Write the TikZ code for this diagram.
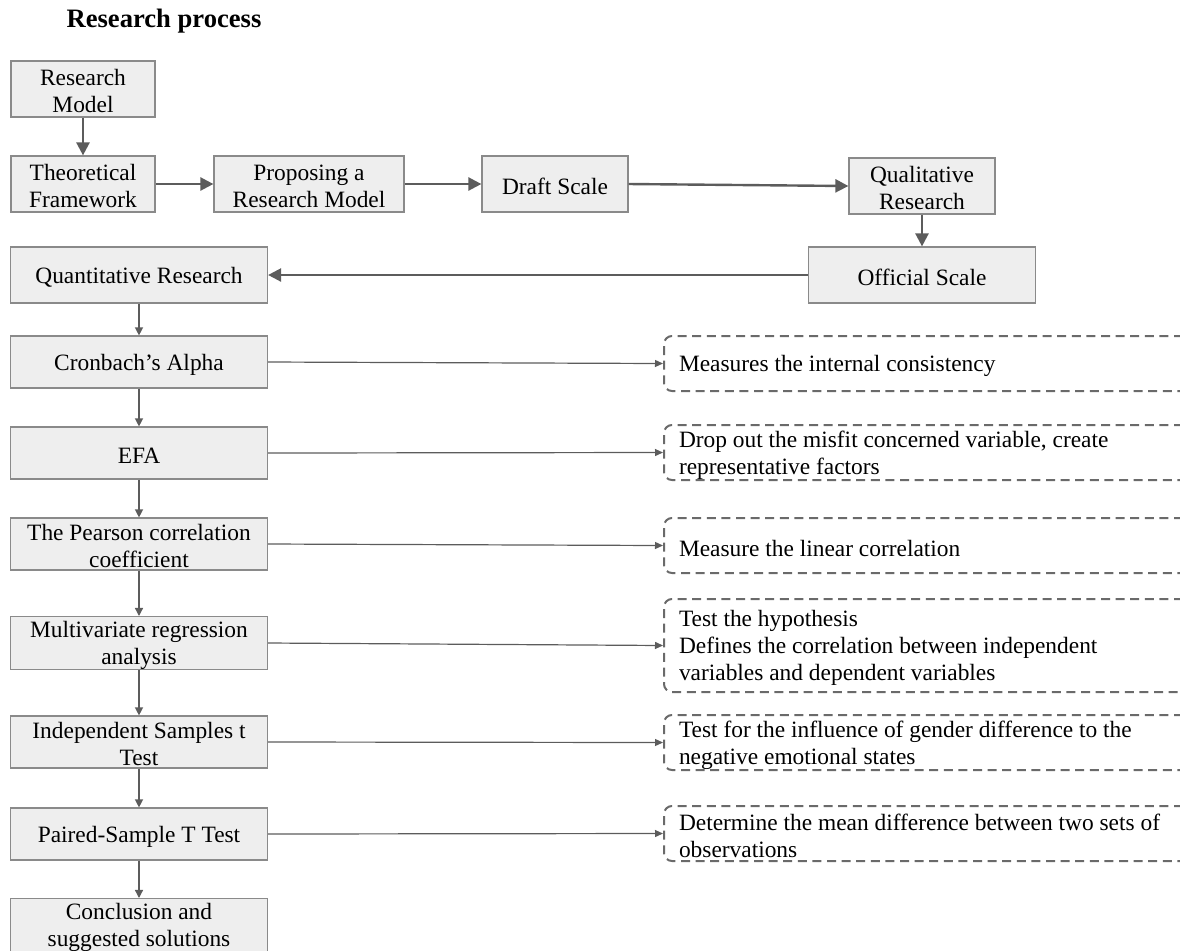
\documentclass[tikz,border=0pt]{standalone}
\usepackage{fontspec}
\setmainfont{Liberation Serif}
\usetikzlibrary{arrows.meta}
\definecolor{boxfill}{HTML}{EEEEEE}
\definecolor{boxline}{HTML}{8A8A8A}
\definecolor{arrowgray}{HTML}{5C5C5C}
\definecolor{dashgray}{HTML}{6A6A6A}
\tikzset{
    lift/.style = {execute at begin node={\rule{0pt}{#1}}},
    procnode/.style = {rectangle, draw=boxline, line width=0.6pt, fill=boxfill, align=center, inner sep=0pt, font=\fontsize{11.7}{13.5}\selectfont, text=black, lift=10.8pt},
    notenode/.style = {rectangle, rounded corners=4pt, draw=dashgray, line width=1pt, dash pattern=on 4.5pt off 2.8pt, align=flush left, anchor=west, inner xsep=7.5pt, inner ysep=0pt, text width=248.5pt, minimum height=27.5pt, font=\fontsize{11.7}{13.5}\selectfont, text=black, lift=10.8pt},
    twoline/.style = {lift=23.9pt},
    edgek/.style = {-{Triangle[length=6.5pt,width=6.5pt]}, line width=1.2pt, arrowgray},
    edgen/.style = {-{Triangle[length=4pt,width=3.5pt]}, line width=0.6pt, arrowgray}, % to notes
    edgev/.style = {-{Triangle[length=4pt,width=4pt]}, line width=0.65pt, arrowgray}, % down the list
}

\begin{document}
\begin{tikzpicture}[x=0.5pt, y=-0.5pt]
  \useasboundingbox (0,0) rectangle (1180,950);

  \node (title) at (164,21) {\fontsize{13.3}{15}\selectfont\bfseries Research process};

  % upper chain
  \node[procnode, twoline, minimum width=72pt, minimum height=28pt] (resmodel) at (83,89) {Research\\Model};
  \node[procnode, twoline, minimum width=72pt, minimum height=28pt] (theory) at (83,184) {Theoretical\\Framework};
  \node[procnode, twoline, minimum width=95pt, minimum height=28pt] (propose) at (309,184) {Proposing a\\Research Model};
  \node[procnode, minimum width=73pt, minimum height=28pt] (draft) at (555,184) {Draft Scale};
  \node[procnode, twoline, minimum width=73pt, minimum height=28pt] (qual) at (922,186) {Qualitative\\Research};
  \node[procnode, minimum width=113.5pt, minimum height=28pt] (official) at (922,275) {Official Scale};
  \node[procnode, minimum width=128.5pt, minimum height=28pt] (quant) at (139,275) {Quantitative Research};

  % analysis steps
  \node[procnode, minimum width=128.5pt, minimum height=26pt] (cronbach) at (139,362) {Cronbach’s Alpha};
  \node[procnode, minimum width=128.5pt, minimum height=26pt] (efa) at (139,453) {EFA};
  \node[procnode, twoline, minimum width=128.5pt, minimum height=26pt] (pearson) at (139,544) {The Pearson correlation\\coefficient};
  \node[procnode, twoline, minimum width=128.5pt, minimum height=26pt] (regress) at (139,643) {Multivariate regression\\analysis};
  \node[procnode, twoline, minimum width=128.5pt, minimum height=26pt] (ttest) at (139,742) {Independent Samples t\\Test};
  \node[procnode, minimum width=128.5pt, minimum height=26pt] (paired) at (139,834) {Paired-Sample T Test};
  \node[procnode, twoline, minimum width=128.5pt, minimum height=26pt] (conclude) at (139,925) {Conclusion and\\suggested solutions};

  % notes
  \node[notenode] (ncron) at (663,363.5) {Measures the internal consistency};
  \node[notenode] (nefa) at (663,452.5) {Drop out the misfit concerned variable, create\\representative factors};
  \node[notenode] (npear) at (663,545.5) {Measure the linear correlation};
  \node[notenode, minimum height=46.5pt] (nreg) at (663,645.5) {Test the hypothesis\\Defines the correlation between independent\\variables and dependent variables};
  \node[notenode] (nttest) at (663,742.5) {Test for the influence of gender difference to the\\negative emotional states};
  \node[notenode] (npair) at (663,833.5) {Determine the mean difference between two sets of\\observations};

  \draw[edgek] (resmodel) -- (theory);
  \draw[edgek] (theory) -- (propose);
  \draw[edgek] (propose) -- (draft);
  \draw[edgek] (draft.east) -- (qual.west);
  \draw[edgek] (qual) -- (official);
  \draw[edgek] (official) -- (quant);

  \draw[edgev] (quant) -- (cronbach);
  \draw[edgev] (cronbach) -- (efa);
  \draw[edgev] (efa) -- (pearson);
  \draw[edgev] (pearson) -- (regress);
  \draw[edgev] (regress) -- (ttest);
  \draw[edgev] (ttest) -- (paired);
  \draw[edgev] (paired) -- (conclude);

  \draw[edgen] (cronbach.east) -- (ncron.west);
  \draw[edgen] (efa.east) -- (nefa.west);
  \draw[edgen] (pearson.east) -- (npear.west);
  \draw[edgen] (regress.east) -- (nreg.west);
  \draw[edgen] (ttest.east) -- (nttest.west);
  \draw[edgen] (paired.east) -- (npair.west);

\end{tikzpicture}
\end{document}
